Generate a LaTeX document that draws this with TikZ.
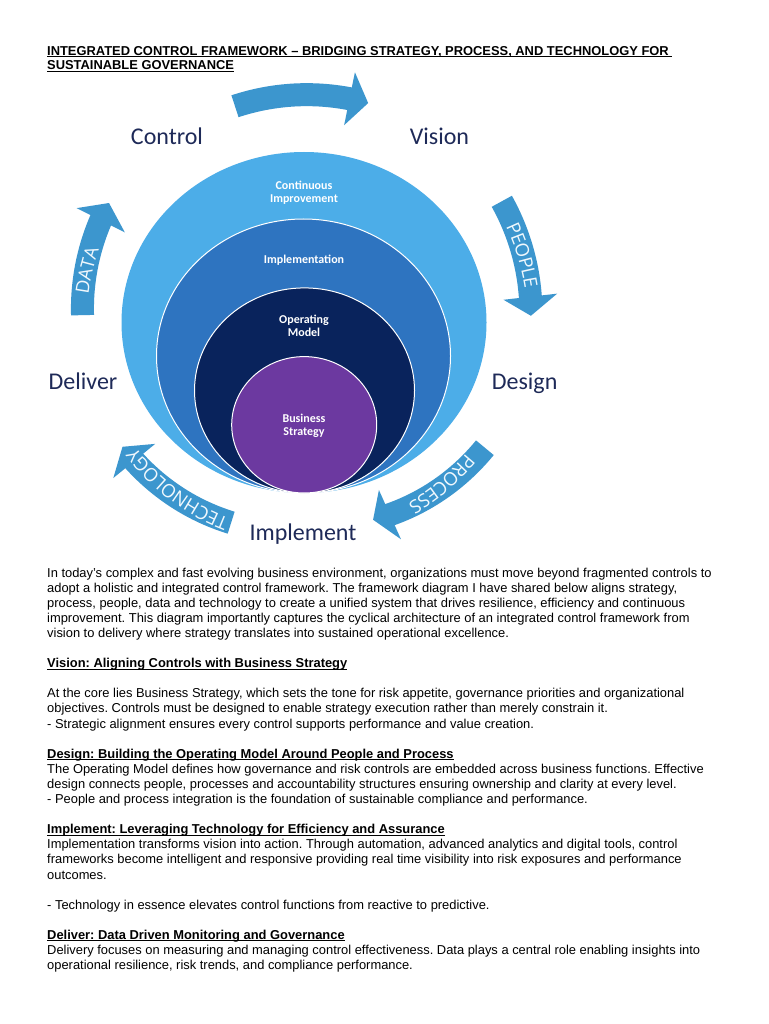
\documentclass[tikz,border=0pt]{standalone}
\usepackage{fontspec}
\setmainfont{Liberation Sans}
\newfontfamily\calfont{Carlito}
\newfontfamily\arrfont{Open Sans}
\usetikzlibrary{decorations.text}
\definecolor{arrowblue}{RGB}{60,150,206}
\definecolor{ringA}{RGB}{76,173,232}
\definecolor{ringB}{RGB}{46,116,192}
\definecolor{ringC}{RGB}{9,35,92}
\definecolor{ringD}{RGB}{108,57,160}
\definecolor{labelnavy}{RGB}{30,42,88}
\definecolor{arrowtext}{RGB}{240,248,253}
\newcommand\myul[1]{\setbox0\hbox{#1}\rlap{\rule[-1.8pt]{\wd0}{0.9pt}}\box0}
% #1 r1, #2 r2, #3 t1, #4 t2 (tip)
\newcommand\cyclearrow[4]{%
  \pgfmathsetmacro\cyTb{#4-4.8}%
  \pgfmathsetmacro\cyTe{\cyTb+0.5}%
  \pgfmathsetmacro\cyRb{#1+(#2-#1)*(\cyTb-(#3))/((#4)-(#3))}%
  \draw[band] plot[smooth, domain=#3:\cyTe, samples=30, variable=\t]
    ({304+(#1+(#2-#1)*(\t-(#3))/((#4)-(#3)))*cos(\t)},{322.5+(#1+(#2-#1)*(\t-(#3))/((#4)-(#3)))*sin(\t)});
  \fill[arrowblue] ({304+(\cyRb+27)*cos(\cyTb)},{322.5+(\cyRb+27)*sin(\cyTb)})
    -- ({304+#2*cos(#4)},{322.5+#2*sin(#4)})
    -- ({304+(\cyRb-27)*cos(\cyTb)},{322.5+(\cyRb-27)*sin(\cyTb)}) -- cycle;
}
% #1 radius, #2 t1, #3 t2, #4 text
\newcommand\cycletext[4]{%
  \path[decorate, decoration={text along path, text={|\arrfont\fontsize{18.5}{18.5}\selectfont\color{arrowtext}|#4}, text align=center, raise=-6.6pt}]
    ({304+#1*cos(#2)},{322.5+#1*sin(#2)}) arc[start angle=#2, end angle=#3, radius=#1];
}
\begin{document}
\begin{tikzpicture}[x=1pt,y=-1pt,
  band/.style={draw=arrowblue, line width=23pt},
  ringlabel/.style={anchor=base, inner sep=0, text=white, font=\calfont\bfseries\fontsize{12}{12}\selectfont},
  biglabel/.style={anchor=base, inner sep=0, text=labelnavy, font=\calfont\fontsize{24}{24}\selectfont},
  bodytext/.style={anchor=base west, align=left, inner sep=0, font=\frenchspacing\fontsize{12.9}{15.1}\selectfont}]
\fill[white] (0,0) rectangle (768,1024);
\useasboundingbox (0,0) rectangle (768,1024);

% title (anchor = baseline of last line)
\node[bodytext, font=\frenchspacing\bfseries\fontsize{12.9}{14.5}\selectfont] (title) at (47,70)
  {\myul{INTEGRATED CONTROL FRAMEWORK – BRIDGING STRATEGY, PROCESS, AND TECHNOLOGY FOR\ }\\
   \myul{SUSTAINABLE GOVERNANCE}};

% rings
\fill[ringA] (304,322.5) ellipse[x radius=182.5, y radius=170.5];
\filldraw[fill=ringB, draw=white, line width=1pt] (303.5,356) ellipse[x radius=147, y radius=137];
\filldraw[fill=ringC, draw=white, line width=1pt] (304.5,390.5) ellipse[x radius=110, y radius=102.6];
\filldraw[fill=ringD, draw=white, line width=1pt] (304.2,424.8) ellipse[x radius=72.5, y radius=68.2];

\node[ringlabel] (ci1) at (304,189.6) {Continuous};
\node[ringlabel] (ci2) at (304,203) {Improvement};
\node[ringlabel] (impl) at (304,263) {Implementation};
\node[ringlabel] (om1) at (304,323) {Operating};
\node[ringlabel] (om2) at (304,336.6) {Model};
\node[ringlabel] (bs1) at (304,422) {Business};
\node[ringlabel] (bs2) at (304,435.6) {Strategy};

% stage labels
\node[biglabel] (control) at (167,145) {Control};
\node[biglabel] (vision) at (439.5,145) {Vision};
\node[biglabel] (design) at (524.6,389) {Design};
\node[biglabel] (implement) at (303,540.5) {Implement};
\node[biglabel] (deliver) at (83,389) {Deliver};

% cycle arrows
\cyclearrow{227}{228.6}{252.3}{286.3}
\cyclearrow{232}{227}{328.5}{358.3}
\cyclearrow{220}{209}{34.7}{70.7}
\cyclearrow{213}{220}{110}{145.6}
\cyclearrow{221.6}{228.7}{181.9}{211.5}
\cycletext{230}{328}{358}{PEOPLE}
\cycletext{215}{32}{67.2}{PROCESS}
\cycletext{216}{106}{148.4}{TECHNOLOGY}
\cycletext{224}{179}{208}{DATA}

% body text (anchor = baseline of last line)
\node[bodytext] (body) at (47,969.6) {%
In today’s complex and fast evolving business environment, organizations must move beyond fragmented controls to\\
adopt a holistic and integrated control framework. The framework diagram I have shared below aligns strategy,\\
process, people, data and technology to create a unified system that drives resilience, efficiency and continuous\\
improvement. This diagram importantly captures the cyclical architecture of an integrated control framework from\\
vision to delivery where strategy translates into sustained operational excellence.\\
\mbox{}\\
\textbf{\myul{Vision: Aligning Controls with Business Strategy}}\\
\mbox{}\\
At the core lies Business Strategy, which sets the tone for risk appetite, governance priorities and organizational\\
objectives. Controls must be designed to enable strategy execution rather than merely constrain it.\\
- Strategic alignment ensures every control supports performance and value creation.\\
\mbox{}\\
\textbf{\myul{Design: Building the Operating Model Around People and Process}}\\
The Operating Model defines how governance and risk controls are embedded across business functions. Effective\\
design connects people, processes and accountability structures ensuring ownership and clarity at every level.\\
- People and process integration is the foundation of sustainable compliance and performance.\\
\mbox{}\\
\textbf{\myul{Implement: Leveraging Technology for Efficiency and Assurance}}\\
Implementation transforms vision into action. Through automation, advanced analytics and digital tools, control\\
frameworks become intelligent and responsive providing real time visibility into risk exposures and performance\\
outcomes.\\
\mbox{}\\
- Technology in essence elevates control functions from reactive to predictive.\\
\mbox{}\\
\textbf{\myul{Deliver: Data Driven Monitoring and Governance}}\\
Delivery focuses on measuring and managing control effectiveness. Data plays a central role enabling insights into\\
operational resilience, risk trends, and compliance performance.};
\end{tikzpicture}
\end{document}
